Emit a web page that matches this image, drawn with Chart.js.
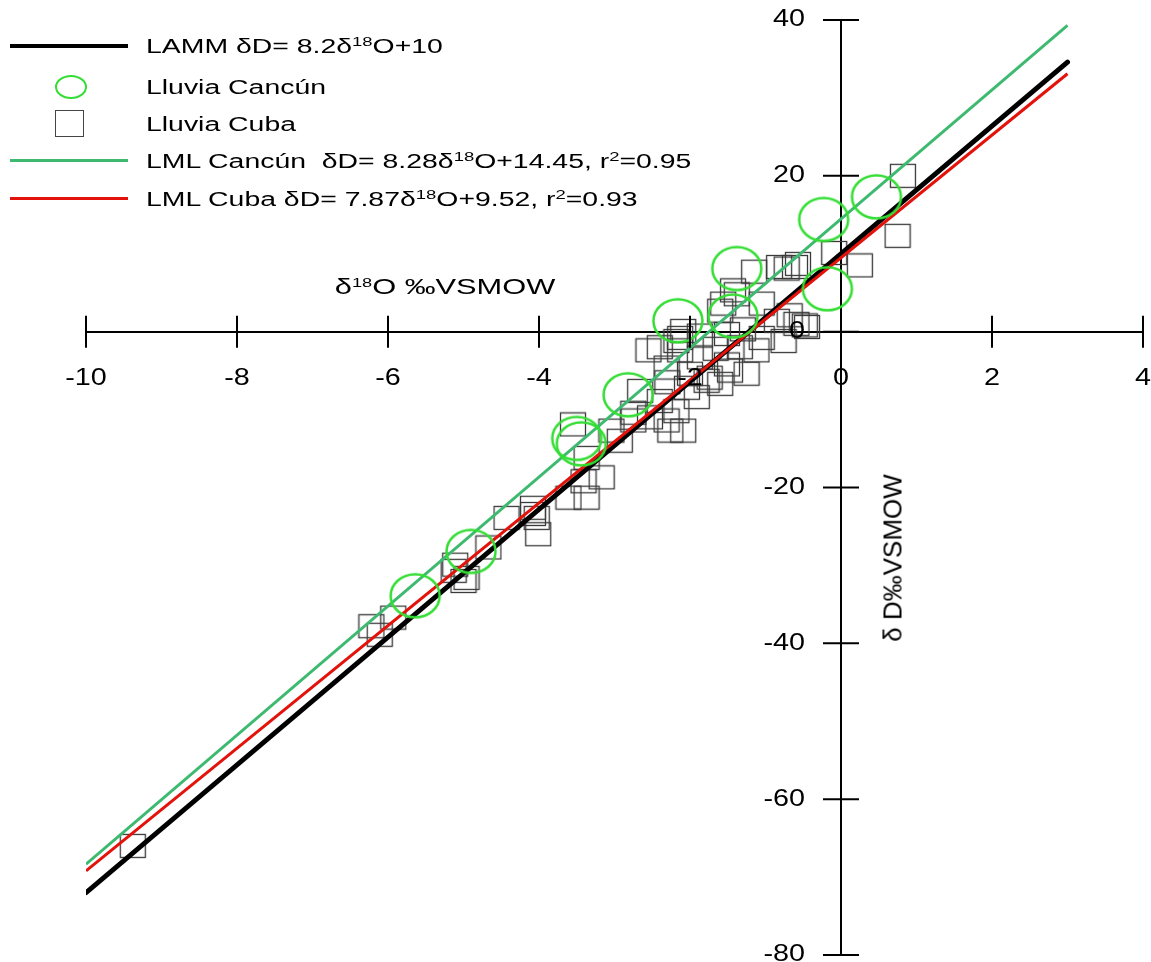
<!DOCTYPE html>
<html>
<head>
<meta charset="utf-8">
<script src="https://cdn.jsdelivr.net/npm/chart.js@4/dist/chart.umd.min.js"></script>
<style>
  body { margin: 0; background: #fff; font-family: "Liberation Sans", Arial, sans-serif; }
  #wrap { position: relative; width: 1151px; height: 962px; overflow: hidden; }
  .fila { position: absolute; left: 146px; font-size: 20px; line-height: 24px; margin-top: -12px;
          white-space: nowrap; transform: scaleX(1.42); transform-origin: left center; }
  .smp { position: absolute; }
  sup { font-size: 13px; vertical-align: 0; position: relative; top: -7px; }
  .xtitle { position: absolute; left: 445px; top: 287px; font-size: 22px; white-space: nowrap;
            transform: translate(-50%, -50%) scaleX(1.4); }
  .ytitle { position: absolute; left: 893px; top: 558px; font-size: 26px; white-space: nowrap;
            transform: translate(-50%, -50%) rotate(-90deg); }
</style>
</head>
<body>
<div id="wrap">
  <canvas id="grafica" width="1151" height="962"></canvas>

  <span class="smp" style="left:10px;top:44px;width:118px;height:4px;background:#000"></span>
  <span class="smp" style="left:55px;top:75px;width:28px;height:20px;border:2px solid #33dd33;border-radius:50%"></span>
  <span class="smp" style="left:55px;top:110px;width:27px;height:25px;border:1.5px solid #444"></span>
  <span class="smp" style="left:10px;top:159px;width:118px;height:3px;background:#3dba6f"></span>
  <span class="smp" style="left:10px;top:197px;width:118px;height:3px;background:#e3120b"></span>

  <div class="fila" style="top:46px">LAMM δD= 8.2δ<sup>18</sup>O+10</div>
  <div class="fila" style="top:87px">Lluvia Cancún</div>
  <div class="fila" style="top:124px">Lluvia Cuba</div>
  <div class="fila" style="top:161px">LML Cancún&nbsp; δD= 8.28δ<sup>18</sup>O+14.45, r<sup>2</sup>=0.95</div>
  <div class="fila" style="top:199px">LML Cuba δD= 7.87δ<sup>18</sup>O+9.52, r<sup>2</sup>=0.93</div>

  <div class="xtitle">δ<sup>18</sup>O ‰VSMOW</div>
  <div class="ytitle">δ D‰VSMOW</div>
</div>
<script>
// Datos
const lineaX = [-10, 3];
const lammY = [-72, 34.6];
const lmlCancunY = [-68.35, 39.3];
const lmlCubaY = [-69.2, 33.1];

const cancunX = [0.47, -0.23, -0.18, -1.38, -1.43, -2.16, -2.82, -3.50, -3.44, -4.90, -5.64];
const cancunY = [17.3, 14.4, 5.5, 8.1, 2.0, 1.4, -8.1, -13.7, -14.4, -28.2, -33.9];

const cubaX = [0.82, 0.75, 0.25, -0.09, -0.61, -0.72, -0.68, -0.48, -1.15, -0.82, -0.57, -1.38, -1.05, -1.60,
  -0.85, -0.59, -0.45, -0.76, -1.12, -1.34, -1.51, -2.09, -1.87, -1.25, -1.51, -1.74, -2.31, -2.00, -2.40,
  -2.18, -2.55, -2.66, -3.55, -3.04, -2.93, -2.75, -2.53, -2.31, -2.09, -2.18, -2.40, -2.04, -1.91, -1.78,
  -1.60, -1.47, -2.13, -1.87, -3.37, -3.17, -3.41, -3.61, -3.37, -2.75, -2.26, -4.08, -4.03, -4.43, -4.08,
  -4.01, -4.67, -5.11, -4.96, -6.22, -6.11, -5.93, -5.13, -5.00, -9.38, -1.43, -1.56, -2.13, -1.30, -1.05,
  -1.66, -2.30];
const cubaY = [20.0, 12.3, 8.5, 10.1, 8.3, 8.1, 2.1, 0.8, 7.7, 8.3, 8.7, 4.8, 3.6, 2.7,
  1.4, 1.0, 0.6, -1.2, -2.4, -2.0, -0.3, 0.1, -0.5, -5.4, -4.2, -5.9, -4.6, -5.4, -2.0,
  -1.2, -2.4, -7.6, -11.9, -12.7, -14.0, -11.4, -11.0, -11.4, -12.7, -10.2, -8.9, -7.2, -8.4, -6.3,
  -6.7, -5.0, -2.4, -3.3, -16.2, -18.7, -19.2, -21.3, -21.3, -10.4, -12.7, -22.6, -23.9, -23.9, -23.4,
  -26.0, -27.7, -29.9, -31.6, -37.8, -38.9, -36.7, -30.7, -32.0, -66.0, 5.3, 3.6, -0.8, 0.3, -0.8,
  -2.2, -6.5];

const xTicks = [-10, -8, -6, -4, -2, 0, 2, 4];
const yTicks = [-80, -60, -40, -20, 0, 20, 40];

function puntos(xs, ys) {
  return xs.map((x, i) => ({ x: x, y: ys[i] }));
}

// Marcadores: elipse verde y rectángulo gris
function marcaElipse() {
  const c = document.createElement('canvas');
  c.width = 54; c.height = 48;
  const g = c.getContext('2d');
  g.strokeStyle = '#33dd33';
  g.lineWidth = 2.5;
  g.beginPath();
  g.ellipse(27, 24, 24.5, 21.5, 0, 0, Math.PI * 2);
  g.stroke();
  return c;
}
function marcaCuadro() {
  const c = document.createElement('canvas');
  c.width = 28; c.height = 26;
  const g = c.getContext('2d');
  g.strokeStyle = '#3a3a3a';
  g.lineWidth = 1.3;
  g.strokeRect(1.5, 1.5, 25, 23);
  return c;
}

// Marcas que cruzan los ejes y etiquetas (letra algo ensanchada, como en el original)
const marcasEjes = {
  id: 'marcasEjes',
  afterDraw(chart) {
    const { ctx, scales } = chart;
    const x0 = scales.x.getPixelForValue(0);
    const y0 = scales.y.getPixelForValue(0);
    ctx.save();
    ctx.strokeStyle = '#000';
    ctx.lineWidth = 2;
    ctx.beginPath();
    xTicks.forEach(v => {
      const px = scales.x.getPixelForValue(v);
      ctx.moveTo(px, y0 - 16);
      ctx.lineTo(px, y0 + 16);
    });
    yTicks.forEach(v => {
      const py = scales.y.getPixelForValue(v);
      ctx.moveTo(x0 - 18, py);
      ctx.lineTo(x0 + 18, py);
    });
    ctx.stroke();

    const k = 1.25;
    ctx.fillStyle = '#000';
    ctx.font = '23px "Liberation Sans", Arial, sans-serif';
    ctx.textBaseline = 'middle';
    ctx.textAlign = 'center';
    xTicks.forEach(v => {
      const px = scales.x.getPixelForValue(v);
      ctx.save();
      ctx.translate(px, y0 + 47);
      ctx.scale(k, 1);
      ctx.fillText(String(v), 0, 0);
      ctx.restore();
    });
    ctx.textAlign = 'right';
    yTicks.forEach(v => {
      const py = scales.y.getPixelForValue(v);
      ctx.save();
      ctx.translate(x0 - 36, py);
      ctx.scale(k, 1);
      ctx.fillText(String(v), 0, 0);
      ctx.restore();
    });
    ctx.restore();
  }
};

const sinPadding = s => { s.paddingTop = 0; s.paddingBottom = 0; s.paddingLeft = 0; s.paddingRight = 0; };

new Chart(document.getElementById('grafica').getContext('2d'), {
  type: 'scatter',
  data: {
    datasets: [
      {
        label: 'Lluvia Cancún',
        data: puntos(cancunX, cancunY),
        pointStyle: marcaElipse(),
        order: 0
      },
      {
        label: 'LML Cancún',
        type: 'line',
        data: puntos(lineaX, lmlCancunY),
        borderColor: '#3dba6f',
        borderWidth: 3,
        pointRadius: 0,
        fill: false,
        order: 1
      },
      {
        label: 'LML Cuba',
        type: 'line',
        data: puntos(lineaX, lmlCubaY),
        borderColor: '#e3120b',
        borderWidth: 3,
        pointRadius: 0,
        fill: false,
        order: 2
      },
      {
        label: 'LAMM',
        type: 'line',
        data: puntos(lineaX, lammY),
        borderColor: '#000',
        borderWidth: 5,
        borderCapStyle: 'round',
        pointRadius: 0,
        fill: false,
        order: 3
      },
      {
        label: 'Lluvia Cuba',
        data: puntos(cubaX, cubaY),
        pointStyle: marcaCuadro(),
        order: 4
      }
    ]
  },
  options: {
    responsive: false,
    animation: false,
    events: [],
    layout: { padding: { left: 86, right: 8, top: 20, bottom: 7 } },
    plugins: {
      legend: { display: false },
      tooltip: { enabled: false }
    },
    scales: {
      x: {
        type: 'linear',
        position: { y: 0 },
        min: -10,
        max: 4,
        afterFit: sinPadding,
        afterBuildTicks: s => { s.ticks = xTicks.map(v => ({ value: v })); },
        ticks: { display: false },
        grid: { drawOnChartArea: false, drawTicks: false },
        border: { color: '#000', width: 2 }
      },
      y: {
        type: 'linear',
        position: { x: 0 },
        min: -80,
        max: 40,
        afterFit: sinPadding,
        afterBuildTicks: s => { s.ticks = yTicks.map(v => ({ value: v })); },
        ticks: { display: false },
        grid: { drawOnChartArea: false, drawTicks: false },
        border: { color: '#000', width: 2 }
      }
    }
  },
  plugins: [marcasEjes]
});
</script>
</body>
</html>
